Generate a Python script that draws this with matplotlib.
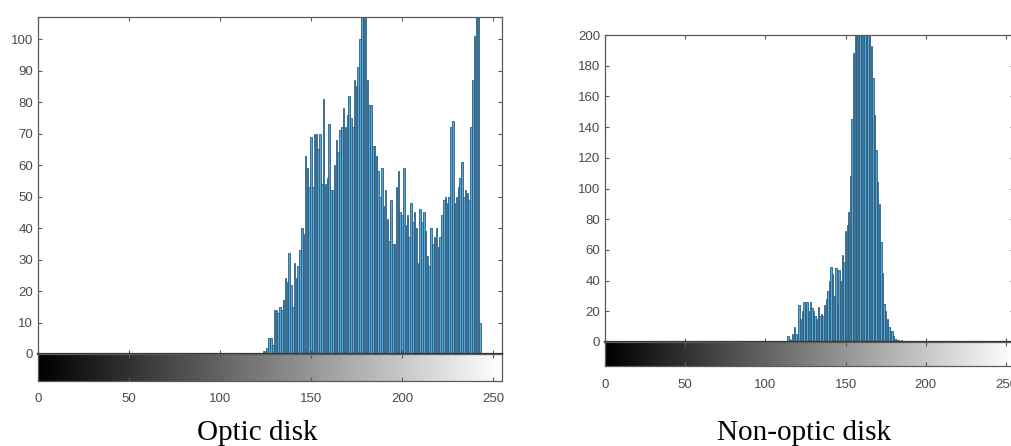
import numpy as np
import matplotlib.pyplot as plt

# histogram counts (gray levels 0..255)
optic_start = 124
optic_counts = [1, 1, 2, 5, 5, 3, 14, 14, 13, 15, 14, 17, 24, 23, 32, 22, 15, 29, 24, 28,
                33, 40, 38, 63, 59, 53, 69, 53, 70, 70, 65, 70, 54, 81, 54, 56, 73, 52, 52, 60,
                68, 64, 71, 72, 78, 72, 76, 82, 75, 72, 87, 85, 91, 100, 110, 110, 110, 87, 79, 79,
                66, 66, 63, 58, 50, 59, 47, 52, 43, 36, 49, 35, 35, 53, 58, 45, 44, 59, 41, 44,
                37, 48, 42, 45, 40, 29, 46, 42, 45, 39, 31, 28, 40, 35, 37, 40, 34, 37, 44, 49,
                50, 48, 50, 72, 74, 48, 50, 53, 56, 61, 50, 52, 51, 49, 72, 87, 101, 110, 110, 10]

nonoptic_start = 114
nonoptic_counts = [4, 2, 1, 5, 10, 5, 3, 24, 15, 20, 26, 22, 26, 20, 26, 22, 20, 17, 15, 23,
                   17, 18, 17, 24, 28, 33, 40, 49, 44, 30, 48, 25, 47, 40, 57, 52, 72, 76, 85, 108,
                   145, 188, 215, 240, 260, 275, 280, 270, 255, 240, 225, 208, 193, 172, 148, 125, 104, 90, 65, 45,
                   25, 20, 15, 10, 7, 7, 4, 2, 1, 1, 0, 1]

xticks = [0, 50, 100, 150, 200, 250]
titles = ["Optic disk", "Non-optic disk"]

W, H = 1011, 446
fig = plt.figure(figsize=(W / 100, H / 100), dpi=100)
plt.rcParams['font.family'] = ['Liberation Sans', 'DejaVu Sans']

bar_color = '#55a8d8'
edge_color = '#2c5f82'
spine_color = '#5a5a5a'
label_color = '#4a4a4a'


def fbox(x0, y0, x1, y1):
    # pixel box -> figure rect
    return [x0 / W, 1 - y1 / H, (x1 - x0) / W, (y1 - y0) / H]


def panel(hist_box, strip_box, start, counts, ymax, ystep, title, title_x):
    ax = fig.add_axes(fbox(*hist_box))
    bins = np.arange(start, start + len(counts))
    ax.bar(bins, counts, width=0.85, color=bar_color, edgecolor=edge_color, linewidth=0.6)
    ax.set_xlim(0, 255)
    ax.set_ylim(0, ymax)
    ax.set_yticks(np.arange(0, ymax + 1, ystep))
    ax.set_xticks(xticks)
    ax.set_xticklabels([])
    ax.tick_params(direction='in', length=3, top=True, right=True, labelsize=9.5,
                   colors=spine_color, labelcolor=label_color, width=0.8)
    for s in ax.spines.values():
        s.set_color(spine_color)
        s.set_linewidth(0.9)
    ax.spines['bottom'].set_linewidth(1.6)
    ax.spines['bottom'].set_color('#333333')

    sx = fig.add_axes(fbox(*strip_box))
    grad = np.linspace(0, 1, 256).reshape(1, -1)
    sx.imshow(grad, cmap='gray', aspect='auto', extent=[0, 255, 0, 1])
    sx.set_xlim(0, 255)
    sx.set_ylim(0, 1)
    sx.set_yticks([])
    sx.set_xticks(xticks)
    sx.tick_params(direction='in', length=3, top=True, labelsize=9.5,
                   colors=spine_color, labelcolor=label_color, width=0.8, pad=9)
    for s in sx.spines.values():
        s.set_color(spine_color)
        s.set_linewidth(0.9)

    fig.text(title_x / W, 1 - 433 / H, title, ha='center', va='center',
             fontsize=21, family='Liberation Serif')


panel((38, 17, 502, 354), (38, 354, 502, 381), optic_start, optic_counts,
      107, 10, titles[0], 257)
panel((605, 35, 1014, 342), (605, 342, 1014, 366), nonoptic_start, nonoptic_counts,
      200, 20, titles[1], 804)

fig.savefig('out.png', dpi=100)
